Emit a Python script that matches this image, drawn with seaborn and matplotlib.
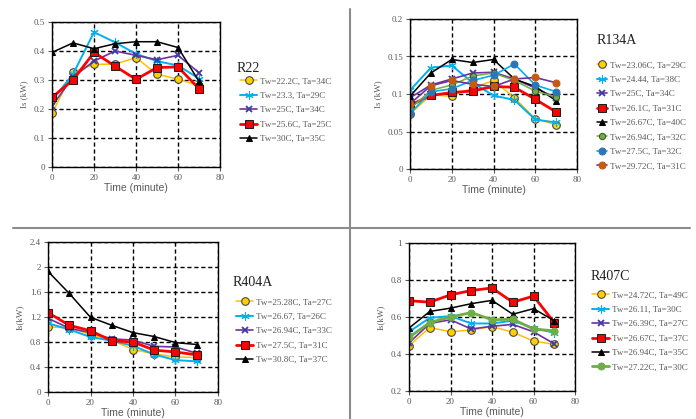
import matplotlib
matplotlib.use("Agg")
import matplotlib.pyplot as plt
from matplotlib.lines import Line2D
import pandas as pd
import seaborn as sns

time = [0, 10, 20, 30, 40, 50, 60, 70]

r22_labels = ["Tw=22.2C, Ta=34C", "Tw=23.3, Ta=29C", "Tw=25C, Ta=34C",
              "Tw=25.6C, Ta=25C", "Tw=30C, Ta=35C"]
r22_values = [
    [0.185, 0.328, 0.354, 0.355, 0.377, 0.320, 0.303, 0.280],
    [0.230, 0.320, 0.465, 0.430, 0.390, 0.365, 0.350, 0.305],
    [0.210, 0.310, 0.365, 0.400, 0.385, 0.370, 0.385, 0.325],
    [0.240, 0.300, 0.395, 0.348, 0.302, 0.343, 0.345, 0.270],
    [0.395, 0.428, 0.408, 0.425, 0.432, 0.432, 0.412, 0.295],
]

r134a_labels = ["Tw=23.06C, Ta=29C", "Tw=24.44, Ta=38C", "Tw=25C, Ta=34C",
                "Tw=26.1C, Ta=31C", "Tw=26.67C, Ta=40C", "Tw=26.94C, Ta=32C",
                "Tw=27.5C, Ta=32C", "Tw=29.72C, Ta=31C"]
r134a_values = [
    [0.073, 0.099, 0.097, 0.108, 0.118, 0.095, 0.067, 0.059],
    [0.105, 0.135, 0.138, 0.115, 0.098, 0.092, 0.066, 0.062],
    [0.095, 0.112, 0.120, 0.128, 0.129, 0.120, 0.108, 0.095],
    [0.085, 0.098, 0.102, 0.104, 0.110, 0.109, 0.093, 0.076],
    [0.097, 0.128, 0.146, 0.142, 0.146, 0.120, 0.110, 0.091],
    [0.080, 0.105, 0.112, 0.124, 0.128, 0.118, 0.104, 0.096],
    [0.074, 0.103, 0.107, 0.118, 0.125, 0.140, 0.112, 0.103],
    [0.087, 0.111, 0.118, 0.113, 0.110, 0.120, 0.122, 0.115],
]

r404a_labels = ["Tw=25.28C, Ta=27C", "Tw=26.67, Ta=26C", "Tw=26.94C, Ta=33C",
                "Tw=27.5C, Ta=31C", "Tw=30.8C, Ta=37C"]
r404a_values = [
    [1.04, 1.03, 0.92, 0.83, 0.68, 0.61, 0.56, 0.55],
    [1.10, 1.00, 0.88, 0.82, 0.74, 0.60, 0.51, 0.49],
    [1.18, 1.02, 0.95, 0.85, 0.83, 0.73, 0.72, 0.62],
    [1.27, 1.067, 0.98, 0.82, 0.80, 0.67, 0.64, 0.595],
    [1.93, 1.577, 1.195, 1.067, 0.95, 0.887, 0.79, 0.76],
]

r407c_labels = ["Tw=24.72C, Ta=49C", "Tw=26.11, Ta=30C", "Tw=26.39C, Ta=27C",
                "Tw=26.67C, Ta=37C", "Tw=26.94C, Ta=35C", "Tw=27.22C, Ta=30C"]
r407c_values = [
    [0.444, 0.543, 0.520, 0.530, 0.548, 0.518, 0.470, 0.452],
    [0.520, 0.595, 0.605, 0.565, 0.565, 0.580, 0.540, 0.515],
    [0.460, 0.565, 0.585, 0.535, 0.550, 0.560, 0.520, 0.455],
    [0.688, 0.680, 0.720, 0.743, 0.757, 0.680, 0.713, 0.570],
    [0.540, 0.630, 0.648, 0.672, 0.690, 0.615, 0.645, 0.580],
    [0.490, 0.570, 0.600, 0.624, 0.585, 0.588, 0.535, 0.525],
]

# marker / line styles
yellow = dict(color="#FFC000", marker="o", markerfacecolor="#FFD000",
              markeredgecolor="#404040", markersize=5.5, linewidth=1.1)
cyan = dict(color="#00B0F0", marker=(6, 2, 0), markerfacecolor="#00B0F0",
            markeredgecolor="#00B0F0", markersize=6, linewidth=1.4)
purple = dict(color="#7030A0", marker="x", markeredgecolor="#3C3CA0",
              markersize=5, markeredgewidth=1.3, linewidth=1.2)
red = dict(color="#FF0000", marker="s", markerfacecolor="#FF0000",
           markeredgecolor="#202020", markersize=6, linewidth=2.0)
black = dict(color="black", marker="^", markerfacecolor="black",
             markeredgecolor="black", markersize=5, linewidth=1.1)
green_small = dict(color="#70AD47", marker="o", markerfacecolor="#70AD47",
                   markeredgecolor="#385723", markersize=4.5, linewidth=1.1)
teal = dict(color="#00B0F0", marker="o", markerfacecolor="#2E75B6",
            markeredgecolor="#2E75B6", markersize=5, linewidth=1.2)
brown = dict(color="#7030A0", marker="o", markerfacecolor="#C55A11",
             markeredgecolor="#C55A11", markersize=5, linewidth=1.2)
green_big = dict(color="#70AD47", marker="o", markerfacecolor="#70AD47",
                 markeredgecolor="#70AD47", markersize=5, linewidth=2.0)

W, H = 696, 419
sns.set_style("ticks")
plt.rcParams["font.family"] = ["Liberation Serif", "DejaVu Serif"]

fig = plt.figure(figsize=(W / 100, H / 100), dpi=100)


def px_axes(left, top, right, bottom):
    return fig.add_axes([left / W, 1 - bottom / H, (right - left) / W, (bottom - top) / H])


panels = [
    dict(name="R22", labels=r22_labels, values=r22_values,
         styles=[yellow, cyan, purple, red, black],
         box=(52, 22, 220, 167), ylim=(0, 0.5), yticks=[0, 0.1, 0.2, 0.3, 0.4, 0.5],
         ylabel="Is (kW)", title_xy=(237, 68), leg_xy=(240, 77), hlen=1.9),
    dict(name="R134A", labels=r134a_labels, values=r134a_values,
         styles=[yellow, cyan, purple, red, black, green_small, teal, brown],
         box=(410, 19, 577, 169), ylim=(0, 0.2), yticks=[0, 0.05, 0.1, 0.15, 0.2],
         ylabel="Is (kW)", title_xy=(597, 40), leg_xy=(597, 61), hlen=1.1),
    dict(name="R404A", labels=r404a_labels, values=r404a_values,
         styles=[yellow, cyan, purple, red, black],
         box=(48, 242, 218, 392), ylim=(0, 2.4), yticks=[0, 0.4, 0.8, 1.2, 1.6, 2, 2.4],
         ylabel="Is(kW)", title_xy=(233, 282), leg_xy=(236, 298), hlen=1.9),
    dict(name="R407C", labels=r407c_labels, values=r407c_values,
         styles=[yellow, cyan, purple, red, black, green_big],
         box=(409, 243, 575, 391), ylim=(0.2, 1.0), yticks=[0.2, 0.4, 0.6, 0.8, 1],
         ylabel="Is(kW)", title_xy=(591, 277), leg_xy=(592, 291), hlen=1.9),
]

tick_color = "#595959"

for p in panels:
    ax = px_axes(*p["box"])
    for lab, vals, st in zip(p["labels"], p["values"], p["styles"]):
        df = pd.DataFrame({"time": time, "val": vals})
        sns.lineplot(data=df, x="time", y="val", ax=ax, label=lab, **st)
    ax.set_xlim(0, 80)
    ax.set_ylim(*p["ylim"])
    ax.set_xticks([0, 20, 40, 60, 80])
    ax.set_yticks(p["yticks"])
    ax.set_yticklabels([f"{t:g}" for t in p["yticks"]])
    ax.grid(True, color="black", linestyle=(0, (3, 2)), linewidth=1.0)
    ax.set_axisbelow(True)
    for s in ax.spines.values():
        s.set_visible(True)
        s.set_color("black")
        s.set_linewidth(1.0)
    ax.tick_params(labelsize=6.5, colors=tick_color, length=3, width=0.8, pad=2)
    ax.set_xlabel("Time (minute)", fontsize=7.5, color=tick_color,
                  family=["Liberation Sans", "DejaVu Sans"], labelpad=1)
    ax.set_ylabel(p["ylabel"], fontsize=6.5, color=tick_color, labelpad=4)

    tx, ty = p["title_xy"]
    fig.text(tx / W, 1 - ty / H, p["name"], fontsize=10, ha="left", va="center", color="#202020")
    lx, ly = p["leg_xy"]
    leg = ax.legend(loc="upper left", bbox_to_anchor=(lx / W, 1 - ly / H),
                    bbox_transform=fig.transFigure, frameon=False, fontsize=6.5,
                    borderpad=0, borderaxespad=0, handlelength=p["hlen"],
                    handletextpad=0.3, labelspacing=0.68)
    for t in leg.get_texts():
        t.set_color(tick_color)

# panel dividers
fig.add_artist(Line2D([350 / W, 350 / W], [0, 1 - 9 / H], transform=fig.transFigure,
                      color="#8C8C8C", linewidth=1.5))
fig.add_artist(Line2D([13 / W, 690 / W], [1 - 228 / H, 1 - 228 / H], transform=fig.transFigure,
                      color="#8C8C8C", linewidth=1.5))

fig.savefig("out.png", dpi=100)
